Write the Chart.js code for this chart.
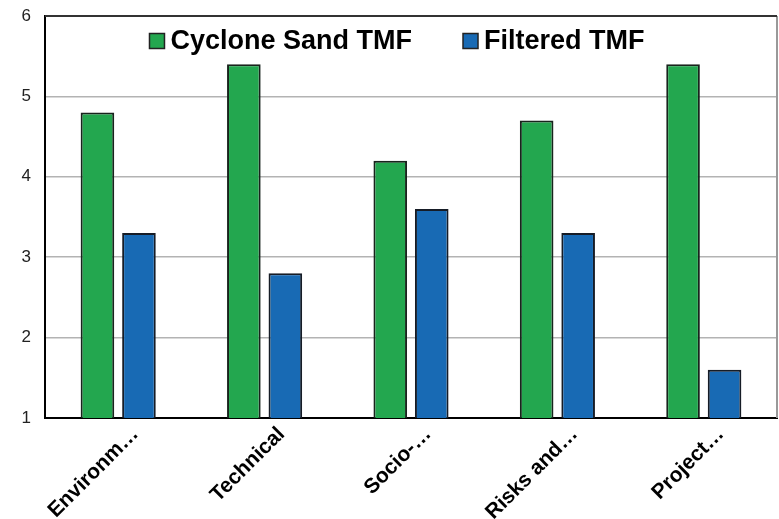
<!DOCTYPE html>
<html>
<head>
<meta charset="utf-8">
<script src="https://cdn.jsdelivr.net/npm/chart.js@4"></script>
<style>
	html, body { margin: 0; padding: 0; background: #fff; }
	#wrap { width: 779px; height: 519px; }
</style>
</head>
<body>
<div id="wrap"><canvas id="chart"></canvas></div>
<script>
const categories = [ 'Environm…', 'Technical', 'Socio-…', 'Risks and…', 'Project…' ];
const cycloneSand = [ 4.8, 5.4, 4.2, 4.7, 5.4 ];
const filtered = [ 3.3, 2.8, 3.6, 3.3, 1.6 ];
const yTicks = [ 1, 2, 3, 4, 5, 6 ];

const FONT = '"Liberation Sans", Arial, sans-serif';

// legend drawn inside the plot, near the top
const topLegend = {
	id: 'topLegend',
	afterDraw( chart ) {
		const ctx = chart.ctx;
		const box = 15, gap = 6, itemGap = 51;
		ctx.save();
		ctx.font = 'bold 27px ' + FONT;
		const widths = chart.data.datasets.map( ( ds ) => box + gap + ctx.measureText( ds.label ).width );
		const total = widths.reduce( ( a, b ) => a + b, 0 ) + itemGap * ( widths.length - 1 );
		let x = 397 - total / 2;
		const cy = 41;
		chart.data.datasets.forEach( ( ds, i ) => {
			ctx.fillStyle = ds.backgroundColor;
			ctx.fillRect( x, cy - box / 2, box, box );
			ctx.strokeStyle = '#222';
			ctx.lineWidth = 1.5;
			ctx.strokeRect( x, cy - box / 2, box, box );
			ctx.fillStyle = '#000';
			ctx.textBaseline = 'middle';
			ctx.fillText( ds.label, x + box + gap, cy + 1 );
			x += widths[ i ] + itemGap;
		} );
		ctx.restore();
	},
};

// top and right edges of the plot frame
const frame = {
	id: 'frame',
	afterDatasetsDraw( chart ) {
		const ctx = chart.ctx;
		const a = chart.chartArea;
		ctx.save();
		ctx.lineWidth = 2;
		ctx.strokeStyle = '#999';
		ctx.beginPath();
		ctx.moveTo( a.right, a.top );
		ctx.lineTo( a.right, a.bottom );
		ctx.stroke();
		ctx.strokeStyle = '#333';
		ctx.beginPath();
		ctx.moveTo( a.left, a.top );
		ctx.lineTo( a.right, a.top );
		ctx.stroke();
		ctx.restore();
	},
};

new Chart( document.getElementById( 'chart' ), {
	type: 'bar',
	data: {
		labels: categories,
		datasets: [
			{
				label: 'Cyclone Sand TMF',
				data: cycloneSand,
				backgroundColor: 'rgb(35,167,79)',
				borderColor: '#18231c',
				borderWidth: 2,
			},
			{
				label: 'Filtered TMF',
				data: filtered,
				backgroundColor: 'rgb(24,106,180)',
				borderColor: '#161c26',
				borderWidth: 2,
			},
		],
	},
	options: {
		responsive: true,
		maintainAspectRatio: false,
		animation: false,
		categoryPercentage: 0.567,
		barPercentage: 0.81,
		layout: { padding: { top: 16, right: 2, left: 0, bottom: 0 } },
		plugins: {
			legend: { display: false },
			tooltip: { enabled: false },
		},
		scales: {
			x: {
				grid: { display: false },
				border: { color: '#000', width: 2 },
				ticks: {
					color: '#000',
					font: { family: FONT, size: 21, weight: 'bold' },
					minRotation: 45,
					maxRotation: 45,
					padding: -4,
					labelOffset: 17,
				},
				afterFit( scale ) { scale.height = 101; },
			},
			y: {
				min: 1,
				max: 6,
				afterBuildTicks( scale ) { scale.ticks = yTicks.map( ( v ) => ( { value: v } ) ); },
				grid: {
					color: '#b3b3b3',
					lineWidth: 1.5,
					drawTicks: false,
				},
				border: { color: '#000', width: 2 },
				ticks: {
					color: '#222',
					font: { family: FONT, size: 17 },
					padding: 14,
				},
				afterFit( scale ) {
					scale.width = 45;
					scale.paddingTop = 0;
					scale.paddingBottom = 0;
				},
			},
		},
	},
	plugins: [ frame, topLegend ],
} );
</script>
</body>
</html>
